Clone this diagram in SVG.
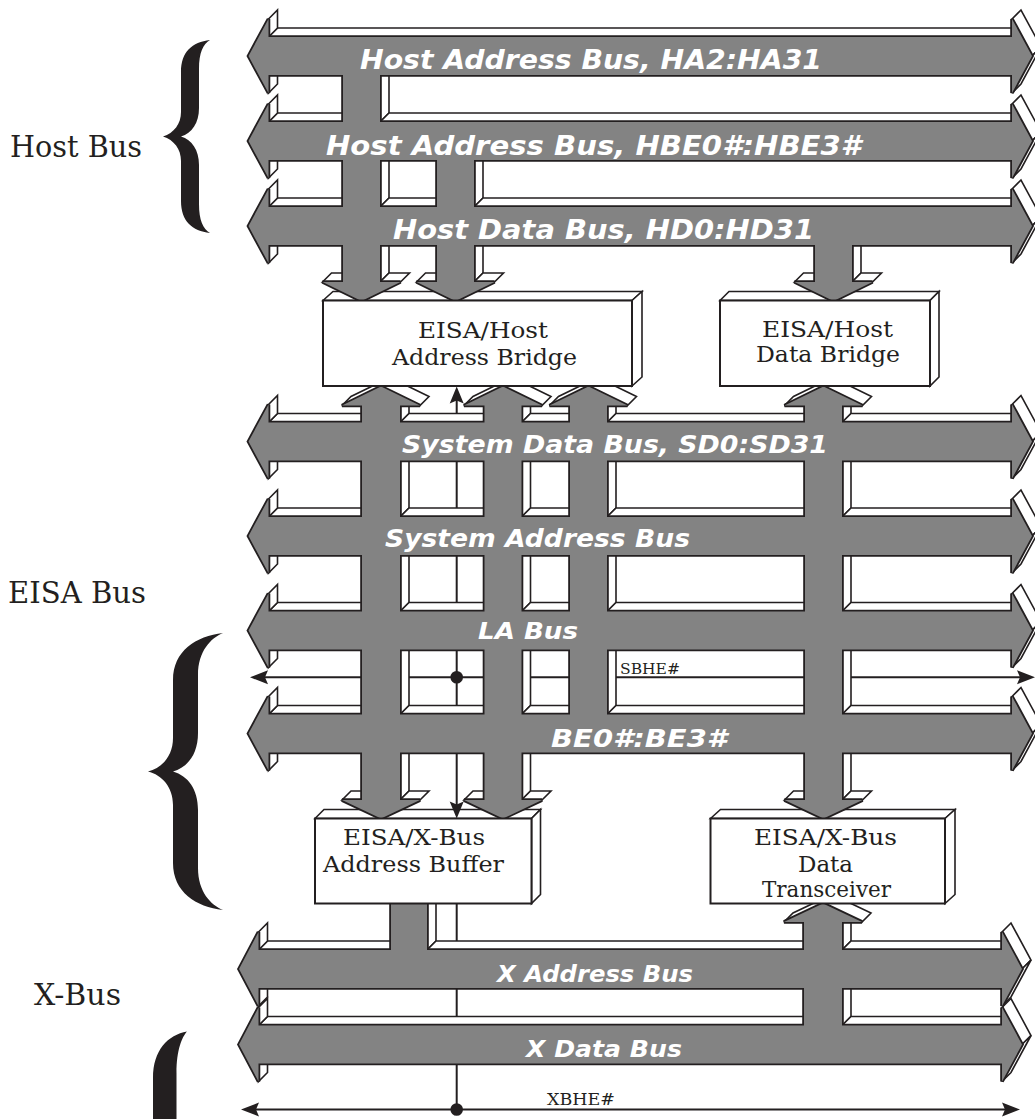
<svg xmlns="http://www.w3.org/2000/svg" xmlns:xlink="http://www.w3.org/1999/xlink" width="1035" height="1119" viewBox="0 0 1035 1119">
<style>
.f{fill:#fff;stroke:#231f20;stroke-width:1.6;stroke-linejoin:miter}
.ns{fill:#231f20;stroke:#231f20;stroke-width:3.6;stroke-linejoin:miter}
.nf{fill:#838383;stroke:none}
.bx{fill:#fff;stroke:#231f20;stroke-width:2}
.bl{font-family:"DejaVu Sans",sans-serif;font-weight:bold;font-style:italic;fill:#fff}
.sl{font-family:"DejaVu Serif",serif;fill:#231f20}
.ln{stroke:#231f20;stroke-width:2;fill:none}
.ah{fill:#231f20;stroke:none}
</style>
<defs>
<g id="net">
<polygon points="248.5,56 268.5,19 268.5,37 1012,37 1012,19 1032,56 1012,93 1012,75 268.5,75 268.5,93"/>
<polygon points="248.5,141 268.5,104 268.5,122 1012,122 1012,104 1032,141 1012,178 1012,160 268.5,160 268.5,178"/>
<polygon points="248.5,226 268.5,189 268.5,207 1012,207 1012,189 1032,226 1012,263 1012,245 268.5,245 268.5,263"/>
<polygon points="248.5,441.5 268.5,404.5 268.5,422.5 1012,422.5 1012,404.5 1032,441.5 1012,478.5 1012,460.5 268.5,460.5 268.5,478.5"/>
<polygon points="248.5,536 268.5,499 268.5,517 1012,517 1012,499 1032,536 1012,573 1012,555 268.5,555 268.5,573"/>
<polygon points="248.5,630.5 268.5,593.5 268.5,611.5 1012,611.5 1012,593.5 1032,630.5 1012,667.5 1012,649.5 268.5,649.5 268.5,667.5"/>
<polygon points="248.5,733.5 268.5,696.5 268.5,714.5 1012,714.5 1012,696.5 1032,733.5 1012,770.5 1012,752.5 268.5,752.5 268.5,770.5"/>
<polygon points="239,969 258.5,932 258.5,950 1002,950 1002,932 1022,969 1002,1006 1002,988 258.5,988 258.5,1006"/>
<polygon points="239,1044.5 258.5,1007.5 258.5,1025.5 1002,1025.5 1002,1007.5 1022,1044.5 1002,1081.5 1002,1063.5 258.5,1063.5 258.5,1081.5"/>
<polygon points="343,56 380,56 380,282 400.5,282 361.5,301 322.5,282 343,282"/>
<polygon points="437,141 474,141 474,282 494.5,282 455.5,301 416.5,282 437,282"/>
<polygon points="815,226 852,226 852,282 872.5,282 833.5,301 794.5,282 815,282"/>
<polygon points="381,386.5 420,405.5 400,405.5 400,800 420,800 381,818.5 342,800 362,800 362,405.5 342,405.5"/>
<polygon points="503,386.5 542,405.5 521.5,405.5 521.5,800 542,800 503,818.5 464,800 484.5,800 484.5,405.5 464,405.5"/>
<polygon points="588.5,386.5 627.5,405.5 607,405.5 607,733.5 570,733.5 570,405.5 549.5,405.5"/>
<polygon points="823.5,386.5 862.5,405.5 842,405.5 842,800 862.5,800 823.5,818.5 784.5,800 805,800 805,405.5 784.5,405.5"/>
<polygon points="391,898 427,898 427,969 391,969"/>
<polygon points="823,903.5 862,922 842,922 842,1044.5 804,1044.5 804,922 784,922"/>
</g>
</defs>

<g id="box-backs">
<polygon class="f" points="323,300.5 333,291.5 642,291.5 632,300.5"/>
<polygon class="f" points="632,300.5 642,291.5 642,377 632,386"/>
<polygon class="f" points="720,300.5 729,291.5 939,291.5 930,300.5"/>
<polygon class="f" points="930,300.5 939,291.5 939,377 930,386"/>
<polygon class="f" points="315,818.5 324,809.5 540.5,809.5 531.5,818.5"/>
<polygon class="f" points="531.5,818.5 540.5,809.5 540.5,894.5 531.5,903.5"/>
<polygon class="f" points="710.5,818.5 720.5,809.5 955,809.5 945,818.5"/>
<polygon class="f" points="945,818.5 955,809.5 955,894.5 945,903.5"/>
</g>

<g id="connectors">
<line class="ln" x1="262" y1="677.3" x2="1022" y2="677.3"/>
<polygon class="ah" points="250,677.3 268,670.3 265,677.3 268,684.3"/>
<polygon class="ah" points="1035,677.3 1017,670.3 1020,677.3 1017,684.3"/>
<line class="ln" x1="253" y1="1109.5" x2="1008" y2="1109.5"/>
<polygon class="ah" points="241,1109.5 259,1102.5 256,1109.5 259,1116.5"/>
<polygon class="ah" points="1020,1109.5 1002,1102.5 1005,1109.5 1002,1116.5"/>
<line class="ln" x1="456.7" y1="398" x2="456.7" y2="806"/>
<polygon class="ah" points="456.7,386.5 449.7,403.5 456.7,400.5 463.7,403.5"/>
<polygon class="ah" points="456.7,818.5 449.7,801.5 456.7,804.5 463.7,801.5"/>
<line class="ln" x1="456.7" y1="903.5" x2="456.7" y2="1109.5"/>
<circle class="ah" cx="456.7" cy="677.3" r="6.3"/>
<circle class="ah" cx="456.7" cy="1109.5" r="6.3"/>
</g>

<g id="faces">
<polygon class="f" points="380,75 389,66 389,113 380,122"/>
<polygon class="f" points="380,160 389,151 389,198 380,207"/>
<polygon class="f" points="380,245 389,236 389,273 380,282"/>
<polygon class="f" points="474,160 483,151 483,198 474,207"/>
<polygon class="f" points="474,245 483,236 483,273 474,282"/>
<polygon class="f" points="852,245 861,236 861,273 852,282"/>
<polygon class="f" points="400,405.5 409,396.5 409,413.5 400,422.5"/>
<polygon class="f" points="400,460.5 409,451.5 409,508 400,517"/>
<polygon class="f" points="400,555 409,546 409,602.5 400,611.5"/>
<polygon class="f" points="400,649.5 409,640.5 409,705.5 400,714.5"/>
<polygon class="f" points="400,752.5 409,743.5 409,791 400,800"/>
<polygon class="f" points="521.5,405.5 530.5,396.5 530.5,413.5 521.5,422.5"/>
<polygon class="f" points="521.5,460.5 530.5,451.5 530.5,508 521.5,517"/>
<polygon class="f" points="521.5,555 530.5,546 530.5,602.5 521.5,611.5"/>
<polygon class="f" points="521.5,649.5 530.5,640.5 530.5,705.5 521.5,714.5"/>
<polygon class="f" points="521.5,752.5 530.5,743.5 530.5,791 521.5,800"/>
<polygon class="f" points="607,405.5 616,396.5 616,413.5 607,422.5"/>
<polygon class="f" points="607,460.5 616,451.5 616,508 607,517"/>
<polygon class="f" points="607,555 616,546 616,602.5 607,611.5"/>
<polygon class="f" points="607,649.5 616,640.5 616,705.5 607,714.5"/>
<polygon class="f" points="842,405.5 851,396.5 851,413.5 842,422.5"/>
<polygon class="f" points="842,460.5 851,451.5 851,508 842,517"/>
<polygon class="f" points="842,555 851,546 851,602.5 842,611.5"/>
<polygon class="f" points="842,649.5 851,640.5 851,705.5 842,714.5"/>
<polygon class="f" points="842,752.5 851,743.5 851,791 842,800"/>
<polygon class="f" points="427,903.5 436,894.5 436,941 427,950"/>
<polygon class="f" points="842,922 851,913 851,941 842,950"/>
<polygon class="f" points="842,988 851,979 851,1016.5 842,1025.5"/>
<polygon class="f" points="268.5,37 277.5,28 1021,28 1012,37"/>
<polygon class="f" points="268.5,122 277.5,113 352,113 343,122"/>
<polygon class="f" points="380,122 389,113 1021,113 1012,122"/>
<polygon class="f" points="268.5,207 277.5,198 352,198 343,207"/>
<polygon class="f" points="380,207 389,198 446,198 437,207"/>
<polygon class="f" points="474,207 483,198 1021,198 1012,207"/>
<polygon class="f" points="268.5,422.5 277.5,413.5 371,413.5 362,422.5"/>
<polygon class="f" points="400,422.5 409,413.5 493.5,413.5 484.5,422.5"/>
<polygon class="f" points="521.5,422.5 530.5,413.5 579,413.5 570,422.5"/>
<polygon class="f" points="607,422.5 616,413.5 814,413.5 805,422.5"/>
<polygon class="f" points="842,422.5 851,413.5 1021,413.5 1012,422.5"/>
<polygon class="f" points="268.5,517 277.5,508 371,508 362,517"/>
<polygon class="f" points="400,517 409,508 493.5,508 484.5,517"/>
<polygon class="f" points="521.5,517 530.5,508 579,508 570,517"/>
<polygon class="f" points="607,517 616,508 814,508 805,517"/>
<polygon class="f" points="842,517 851,508 1021,508 1012,517"/>
<polygon class="f" points="268.5,611.5 277.5,602.5 371,602.5 362,611.5"/>
<polygon class="f" points="400,611.5 409,602.5 493.5,602.5 484.5,611.5"/>
<polygon class="f" points="521.5,611.5 530.5,602.5 579,602.5 570,611.5"/>
<polygon class="f" points="607,611.5 616,602.5 814,602.5 805,611.5"/>
<polygon class="f" points="842,611.5 851,602.5 1021,602.5 1012,611.5"/>
<polygon class="f" points="268.5,714.5 277.5,705.5 371,705.5 362,714.5"/>
<polygon class="f" points="400,714.5 409,705.5 493.5,705.5 484.5,714.5"/>
<polygon class="f" points="521.5,714.5 530.5,705.5 579,705.5 570,714.5"/>
<polygon class="f" points="607,714.5 616,705.5 814,705.5 805,714.5"/>
<polygon class="f" points="842,714.5 851,705.5 1021,705.5 1012,714.5"/>
<polygon class="f" points="258.5,950 267.5,941 400,941 391,950"/>
<polygon class="f" points="427,950 436,941 813,941 804,950"/>
<polygon class="f" points="842,950 851,941 1011,941 1002,950"/>
<polygon class="f" points="258.5,1025.5 267.5,1016.5 813,1016.5 804,1025.5"/>
<polygon class="f" points="842,1025.5 851,1016.5 1011,1016.5 1002,1025.5"/>
<polygon class="f" points="268.5,19 277.5,10 277.5,28 268.5,37"/>
<polygon class="f" points="268.5,75 277.5,66 277.5,84 268.5,93"/>
<polygon class="f" points="1012,19 1021,10 1041,47 1032,56"/>
<polygon class="f" points="1032,56 1041,47 1021,84 1012,93"/>
<polygon class="f" points="268.5,104 277.5,95 277.5,113 268.5,122"/>
<polygon class="f" points="268.5,160 277.5,151 277.5,169 268.5,178"/>
<polygon class="f" points="1012,104 1021,95 1041,132 1032,141"/>
<polygon class="f" points="1032,141 1041,132 1021,169 1012,178"/>
<polygon class="f" points="268.5,189 277.5,180 277.5,198 268.5,207"/>
<polygon class="f" points="268.5,245 277.5,236 277.5,254 268.5,263"/>
<polygon class="f" points="1012,189 1021,180 1041,217 1032,226"/>
<polygon class="f" points="1032,226 1041,217 1021,254 1012,263"/>
<polygon class="f" points="268.5,404.5 277.5,395.5 277.5,413.5 268.5,422.5"/>
<polygon class="f" points="268.5,460.5 277.5,451.5 277.5,469.5 268.5,478.5"/>
<polygon class="f" points="1012,404.5 1021,395.5 1041,432.5 1032,441.5"/>
<polygon class="f" points="1032,441.5 1041,432.5 1021,469.5 1012,478.5"/>
<polygon class="f" points="268.5,499 277.5,490 277.5,508 268.5,517"/>
<polygon class="f" points="268.5,555 277.5,546 277.5,564 268.5,573"/>
<polygon class="f" points="1012,499 1021,490 1041,527 1032,536"/>
<polygon class="f" points="1032,536 1041,527 1021,564 1012,573"/>
<polygon class="f" points="268.5,593.5 277.5,584.5 277.5,602.5 268.5,611.5"/>
<polygon class="f" points="268.5,649.5 277.5,640.5 277.5,658.5 268.5,667.5"/>
<polygon class="f" points="1012,593.5 1021,584.5 1041,621.5 1032,630.5"/>
<polygon class="f" points="1032,630.5 1041,621.5 1021,658.5 1012,667.5"/>
<polygon class="f" points="268.5,696.5 277.5,687.5 277.5,705.5 268.5,714.5"/>
<polygon class="f" points="268.5,752.5 277.5,743.5 277.5,761.5 268.5,770.5"/>
<polygon class="f" points="1012,696.5 1021,687.5 1041,724.5 1032,733.5"/>
<polygon class="f" points="1032,733.5 1041,724.5 1021,761.5 1012,770.5"/>
<polygon class="f" points="258.5,932 267.5,923 267.5,941 258.5,950"/>
<polygon class="f" points="258.5,988 267.5,979 267.5,997 258.5,1006"/>
<polygon class="f" points="1002,932 1011,923 1031,960 1022,969"/>
<polygon class="f" points="1022,969 1031,960 1011,997 1002,1006"/>
<polygon class="f" points="258.5,1007.5 267.5,998.5 267.5,1016.5 258.5,1025.5"/>
<polygon class="f" points="258.5,1063.5 267.5,1054.5 267.5,1072.5 258.5,1081.5"/>
<polygon class="f" points="1002,1007.5 1011,998.5 1031,1035.5 1022,1044.5"/>
<polygon class="f" points="1022,1044.5 1031,1035.5 1011,1072.5 1002,1081.5"/>
<polygon class="f" points="322.5,282 331.5,273 352,273 343,282"/>
<polygon class="f" points="380,282 389,273 409.5,273 400.5,282"/>
<polygon class="f" points="416.5,282 425.5,273 446,273 437,282"/>
<polygon class="f" points="474,282 483,273 503.5,273 494.5,282"/>
<polygon class="f" points="794.5,282 803.5,273 824,273 815,282"/>
<polygon class="f" points="852,282 861,273 881.5,273 872.5,282"/>
<polygon class="f" points="342,405.5 351,396.5 390,377.5 381,386.5"/>
<polygon class="f" points="381,386.5 390,377.5 429,396.5 420,405.5"/>
<polygon class="f" points="342,800 351,791 371,791 362,800"/>
<polygon class="f" points="400,800 409,791 429,791 420,800"/>
<polygon class="f" points="464,405.5 473,396.5 512,377.5 503,386.5"/>
<polygon class="f" points="503,386.5 512,377.5 551,396.5 542,405.5"/>
<polygon class="f" points="464,800 473,791 493.5,791 484.5,800"/>
<polygon class="f" points="521.5,800 530.5,791 551,791 542,800"/>
<polygon class="f" points="549.5,405.5 558.5,396.5 597.5,377.5 588.5,386.5"/>
<polygon class="f" points="588.5,386.5 597.5,377.5 636.5,396.5 627.5,405.5"/>
<polygon class="f" points="784.5,405.5 793.5,396.5 832.5,377.5 823.5,386.5"/>
<polygon class="f" points="823.5,386.5 832.5,377.5 871.5,396.5 862.5,405.5"/>
<polygon class="f" points="784.5,800 793.5,791 814,791 805,800"/>
<polygon class="f" points="842,800 851,791 871.5,791 862.5,800"/>
<polygon class="f" points="784,922 793,913 832,894.5 823,903.5"/>
<polygon class="f" points="823,903.5 832,894.5 871,913 862,922"/>
</g>

<g id="bus-network">
<use xlink:href="#net" href="#net" class="ns"/>
<use xlink:href="#net" href="#net" class="nf"/>
</g>

<g id="bus-labels" class="bl">
<text x="360" y="68.5" font-size="27" textLength="462" lengthAdjust="spacingAndGlyphs">Host Address Bus, HA2:HA31</text>
<text x="326" y="155" font-size="27" textLength="535" lengthAdjust="spacingAndGlyphs">Host Address Bus, HBE0#:HBE3#</text>
<text x="393" y="238.5" font-size="27" textLength="421" lengthAdjust="spacingAndGlyphs">Host Data Bus, HD0:HD31</text>
<text x="402" y="452.5" font-size="24" textLength="426" lengthAdjust="spacingAndGlyphs">System Data Bus, SD0:SD31</text>
<text x="385" y="546.5" font-size="24" textLength="305" lengthAdjust="spacingAndGlyphs">System Address Bus</text>
<text x="478" y="638.5" font-size="23" textLength="100" lengthAdjust="spacingAndGlyphs">LA Bus</text>
<text x="551" y="747" font-size="24" textLength="176" lengthAdjust="spacingAndGlyphs">BE0#:BE3#</text>
<text x="497" y="981.5" font-size="23" textLength="196" lengthAdjust="spacingAndGlyphs">X Address Bus</text>
<text x="526" y="1057" font-size="23" textLength="156" lengthAdjust="spacingAndGlyphs">X Data Bus</text>
</g>

<g id="eisa-host-address-bridge">
<rect class="bx" x="323" y="300.5" width="309" height="85.5"/>
<text class="sl" x="418" y="338" font-size="22" textLength="130" lengthAdjust="spacingAndGlyphs">EISA/Host</text>
<text class="sl" x="392" y="365" font-size="22" textLength="185" lengthAdjust="spacingAndGlyphs">Address Bridge</text>
</g>
<g id="eisa-host-data-bridge">
<rect class="bx" x="720" y="300.5" width="210" height="85.5"/>
<text class="sl" x="762" y="336.5" font-size="22" textLength="131" lengthAdjust="spacingAndGlyphs">EISA/Host</text>
<text class="sl" x="756" y="362" font-size="22" textLength="144" lengthAdjust="spacingAndGlyphs">Data Bridge</text>
</g>
<g id="eisa-xbus-address-buffer">
<rect class="bx" x="315" y="818.5" width="216.5" height="85"/>
<text class="sl" x="343" y="845" font-size="22" textLength="142" lengthAdjust="spacingAndGlyphs">EISA/X-Bus</text>
<text class="sl" x="323" y="871.5" font-size="22" textLength="181" lengthAdjust="spacingAndGlyphs">Address Buffer</text>
</g>
<g id="eisa-xbus-data-transceiver">
<rect class="bx" x="710.5" y="818.5" width="234.5" height="85"/>
<text class="sl" x="754" y="845" font-size="22" textLength="143" lengthAdjust="spacingAndGlyphs">EISA/X-Bus</text>
<text class="sl" x="798" y="871.5" font-size="22" textLength="55" lengthAdjust="spacingAndGlyphs">Data</text>
<text class="sl" x="762" y="896.5" font-size="22" textLength="129" lengthAdjust="spacingAndGlyphs">Transceiver</text>
</g>

<g id="signal-labels" class="sl">
<text x="620" y="674" font-size="15" textLength="60" lengthAdjust="spacingAndGlyphs">SBHE#</text>
<text x="547" y="1105" font-size="17" textLength="68" lengthAdjust="spacingAndGlyphs">XBHE#</text>
</g>

<g id="group-labels">
<text class="sl" x="10" y="156.7" font-size="29" textLength="132" lengthAdjust="spacingAndGlyphs">Host Bus</text>
<text class="sl" x="8" y="602.5" font-size="29" textLength="138" lengthAdjust="spacingAndGlyphs">EISA Bus</text>
<text class="sl" x="34" y="1004.5" font-size="29" textLength="87" lengthAdjust="spacingAndGlyphs">X-Bus</text>
<path fill="#231f20" d="M210,40 C192,42 181,52 181,72 L181,112 C181,124 174,133 163,136.5 C174,140 181,149 181,161 L181,201 C181,221 192,231 210,233 C203,229 199,220 199,204 L199,165 C199,150 192,140 181,136.5 C192,133 199,123 199,108 L199,69 C199,53 203,44 210,40 Z"/>
<path fill="#231f20" d="M223,633 C196,636 173,651 173,680 L173,738 C173,756 162,768 148,771.5 C162,775 173,787 173,805 L173,863 C173,892 196,907 223,910 C211,905 198,892 198,868 L198,810 C198,789 188,776 173,771.5 C188,767 198,754 198,733 L198,675 C198,651 211,638 223,633 Z"/>
<path fill="#231f20" d="M187,1031.5 C168,1035 153,1050 153,1078 L153,1125 L176.5,1125 L176.5,1073 C176.5,1050 182,1037 187,1031.5 Z"/>
</g>
</svg>
